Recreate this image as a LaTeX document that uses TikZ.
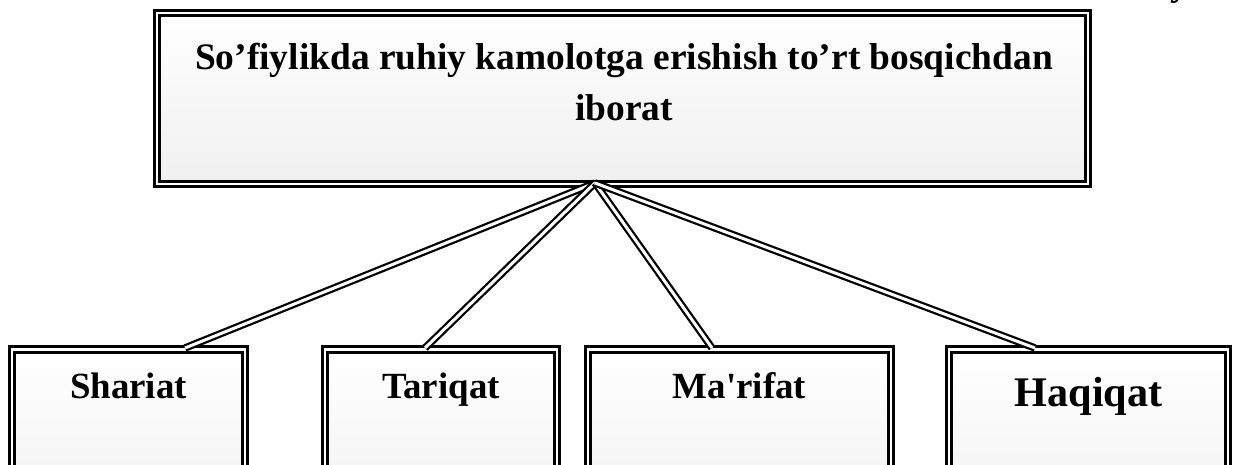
\documentclass[tikz,border=0pt]{standalone}
\usepackage{fontspec}
\setmainfont{Liberation Serif}
\usepackage{textcomp}
\usetikzlibrary{positioning}
\tikzset{
  boxbase/.style={rectangle, draw, double=white, double distance=0.05cm,
    line width=0.06cm, top color=white, bottom color=gray!12, inner sep=0pt},
  topbox/.style={boxbase, minimum width=18.62cm, minimum height=3.42cm},
  stagebox/.style={boxbase, anchor=north, text height=0.98cm, text depth=3cm,
    font=\fontsize{21}{25}\selectfont\bfseries},
  titletext/.style={align=center, inner sep=0pt,
    font=\fontsize{21.3}{29}\selectfont\bfseries},
  link/.style={double=white, double distance=0.06cm, line width=0.045cm},
}
\begin{document}
\begin{tikzpicture}[x=0.02cm, y=-0.02cm]
  \useasboundingbox (0,0) rectangle (1239,465);

  % Top box
  \node[topbox] (top) at (622.5,98.5) {};
  \node[titletext] (title) at (624,82)
    {So’fiylikda ruhiy kamolotga erishish to’rt bosqichdan\\iborat};
  \node[anchor=base west, inner sep=0pt, font=\fontsize{21}{25}\selectfont\bfseries]
    (cut) at (1170,-4) {y};

  % Four stages
  \node[stagebox, minimum width=4.66cm] (sh) at (128.5,348) {Shariat};
  \node[stagebox, minimum width=4.64cm] (ta) at (441,348) {Tariqat};
  \node[stagebox, minimum width=6.06cm] (ma) at (739.5,348) {Ma\textquotesingle rifat};
  \node[stagebox, minimum width=5.58cm, text height=1.14cm,
    font=\fontsize{24}{28}\selectfont\bfseries] (ha) at (1088.5,348) {Haqiqat};

  % Links
  \coordinate (hub) at (595,183);
  \draw[link] (hub) -- ([xshift=1.13cm]sh.north);
  \draw[link] (hub) -- ([xshift=-0.32cm]ta.north);
  \draw[link] (hub) -- ([xshift=-0.55cm]ma.north);
  \draw[link] (hub) -- ([xshift=-1.07cm]ha.north);
\end{tikzpicture}
\end{document}
